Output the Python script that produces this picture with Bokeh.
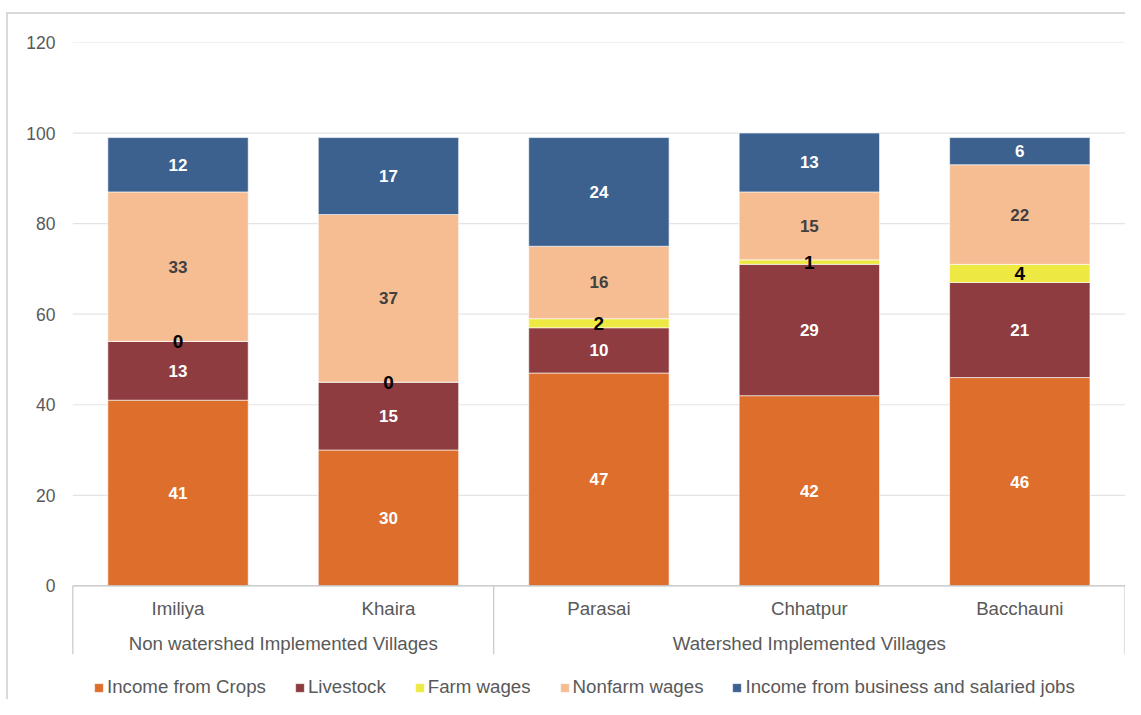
from bokeh.plotting import figure
from bokeh.models import ColumnDataSource, Range1d, FixedTicker, Legend, LegendItem
from bokeh.core.properties import value
from bokeh.embed import file_html
from bokeh.resources import INLINE

# ---------------- data ----------------
villages = ["Imiliya", "Khaira", "Parasai", "Chhatpur", "Bacchauni"]
groups = ["Non watershed Implemented Villages", "Watershed Implemented Villages"]
group_sizes = [2, 3]
series = ["Income from Crops", "Livestock", "Farm wages", "Nonfarm wages",
          "Income from business and salaried jobs"]
crops = [41, 30, 47, 42, 46]
livestock = [13, 15, 10, 29, 21]
farm_wages = [0, 0, 2, 1, 4]
nonfarm_wages = [33, 37, 16, 15, 22]
business = [12, 17, 24, 13, 6]
y_ticks = [0, 20, 40, 60, 80, 100, 120]

# ---------------- styles ----------------
colors = ["#DE6E2B", "#8E3C3F", "#EEE843", "#F5BD91", "#3C618F"]
label_colors = ["#FFFFFF", "#FFFFFF", "#000000", "#404040", "#FFFFFF"]
label_sizes = ["17px", "17px", "19px", "17px", "17px"]
FONT = "Liberation Sans"
GREY_TEXT = "#595959"
AXIS_GREY = "#BFBFBF"
GRID_GREY = "#E4E4E4"
TEXT_SIZE = "18.7px"

BAR_W = 0.667
CAT_LABEL_Y = -4.92
GROUP_LABEL_Y = -12.65
SEP_BOTTOM = -15.1

values = [crops, livestock, farm_wages, nonfarm_wages, business]
xs = [i + 0.5 for i in range(len(villages))]

p = figure(width=1125, height=699, output_backend="svg", toolbar_location=None,
           x_range=Range1d(-0.01093, 5.0023), y_range=Range1d(-25.1, 120),
           x_axis_location=None, min_border_left=70, min_border_right=0,
           min_border_top=42, min_border_bottom=0)
p.outline_line_color = None
p.background_fill_color = "white"
p.border_fill_alpha = 0
p.xgrid.visible = False
p.ygrid.visible = False
# outer chart border (light grey frame around the whole chart)
p.styles = {
    "background-color": "white",
    "background-image": ("linear-gradient(#D9D9D9, #D9D9D9), "
                         "linear-gradient(#D9D9D9, #D9D9D9)"),
    "background-position": "6px 12px, 6px 12px",
    "background-size": "2px 100%, 100% 2px",
    "background-repeat": "no-repeat, no-repeat",
}

# y axis
ax = p.yaxis[0]
ax.ticker = FixedTicker(ticks=y_ticks)
ax.axis_line_color = None
ax.major_tick_line_color = None
ax.minor_tick_line_color = None
ax.major_tick_out = 0
ax.major_label_standoff = 15
ax.major_label_text_font = FONT
ax.major_label_text_font_size = "17.5px"
ax.major_label_text_color = GREY_TEXT

# gridlines (from the tick list)
grid_ys = [t for t in y_ticks if t > 0]
p.segment(x0=[0] * len(grid_ys), x1=[len(villages)] * len(grid_ys), y0=grid_ys, y1=grid_ys,
          line_color=GRID_GREY, line_width=1.2)

# stacked bars
src = ColumnDataSource(dict(x=xs, **{s: v for s, v in zip(series, values)}))
renderers = p.vbar_stack(series, x="x", width=BAR_W, source=src, color=colors,
                         line_color="white", line_width=0.6)

# data labels
bottoms = [0] * len(villages)
for vals, col, size in zip(values, label_colors, label_sizes):
    mids = [b + v / 2 for b, v in zip(bottoms, vals)]
    p.text(x=xs, y=mids, text=[str(v) for v in vals], text_align="center",
           text_baseline="middle", text_font=value(FONT), text_font_style="bold",
           text_font_size=size, text_color=col)
    bottoms = [b + v for b, v in zip(bottoms, vals)]

# category axis: baseline, separators, labels
p.segment(x0=[0], x1=[len(villages)], y0=[0], y1=[0], line_color=AXIS_GREY, line_width=1.4)
bounds = [0]
for g in group_sizes:
    bounds.append(bounds[-1] + g)
p.segment(x0=bounds, x1=bounds, y0=[0] * len(bounds), y1=[SEP_BOTTOM] * len(bounds),
          line_color="#C8C8C8", line_width=1.2)
p.text(x=xs, y=[CAT_LABEL_Y] * len(xs), text=villages, text_align="center",
       text_baseline="middle", text_font=value(FONT), text_font_size=TEXT_SIZE,
       text_color=GREY_TEXT)
gx = [(a + b) / 2 for a, b in zip(bounds[:-1], bounds[1:])]
p.text(x=gx, y=[GROUP_LABEL_Y] * len(gx), text=groups, text_align="center",
       text_baseline="middle", text_font=value(FONT), text_font_size=TEXT_SIZE,
       text_color=GREY_TEXT)

# legend
legend = Legend(items=[LegendItem(label=s, renderers=[r]) for s, r in zip(series, renderers)],
                orientation="horizontal", location=(23, 1), padding=0, margin=0,
                spacing=28, glyph_width=11, glyph_height=11, label_standoff=3,
                label_height=20, label_text_font=FONT, label_text_font_size=TEXT_SIZE,
                label_text_color=GREY_TEXT, border_line_color=None,
                background_fill_alpha=0)
p.add_layout(legend)

open("out.html", "w").write(file_html(p, INLINE))
